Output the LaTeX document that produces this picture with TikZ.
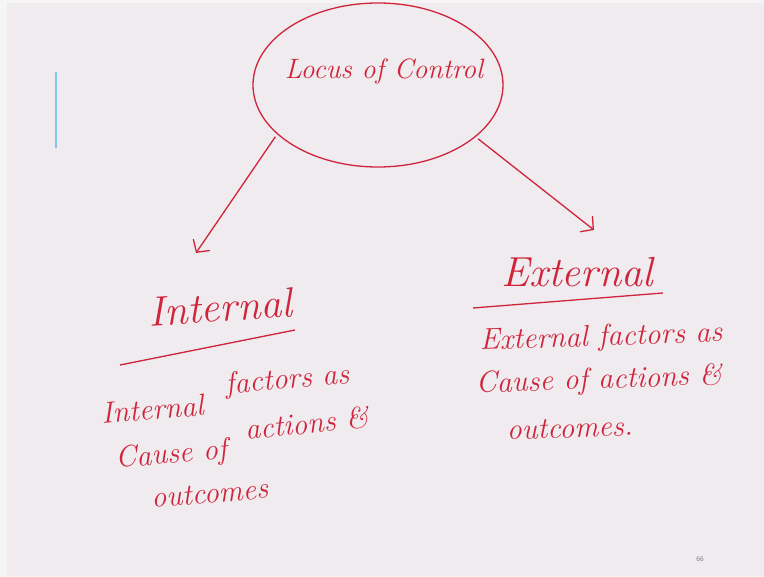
\documentclass[tikz,border=0pt]{standalone}
\usetikzlibrary{arrows.meta,shapes.geometric}
\definecolor{ink}{RGB}{208,36,58}
\definecolor{board}{RGB}{239,235,239}
\definecolor{pen}{RGB}{126,200,227}
\tikzset{hand/.style={text=ink,font=\itshape\fontsize{30}{36}\selectfont,inner sep=0pt},
  inkline/.style={draw=ink,line width=1.3pt}}
\begin{document}
\begin{tikzpicture}[x=1pt,y=-1pt]
\fill[white!96!black] (0,0) rectangle (764,577);
\fill[board] (7,3) rectangle (764,576);
\useasboundingbox (0,0) rectangle (764,577);
\draw[pen, line width=2pt] (56,72) -- (56,148);
\node[inkline, ellipse, minimum width=250pt, minimum height=164pt, inner sep=0pt] (loc) at (378,85) {};
\node[hand, font=\itshape\fontsize{28}{34}\selectfont] (title) at (384,72) {Locus of Control};
\coordinate (intip) at (196,253);
\coordinate (extip) at (594,230);
\draw[inkline, -{Straight Barb[length=9pt,width=20pt]}, shorten <=3pt] (loc.206) -- (intip);
\draw[inkline, -{Straight Barb[length=9pt,width=20pt]}, shorten <=3pt] (loc.332) -- (extip);
\node[hand, font=\itshape\fontsize{42}{48}\selectfont, rotate=4] (int) at (220,307) {Internal};
\draw[inkline] (120,365) -- (295,330);
\node[hand, font=\itshape\fontsize{42}{48}\selectfont] (ext) at (577,272) {External};
\draw[inkline] (473,308) -- (663,293);
\node[hand, anchor=base west, rotate=5] (in1a) at (102,424) {Internal};
\node[hand, anchor=base west, rotate=5] (in1b) at (226,394) {factors as};
\node[hand, anchor=base west, rotate=5] (in2a) at (116,468) {Cause of};
\node[hand, anchor=base west, rotate=6] (in2b) at (246,440) {actions \&};
\node[hand, anchor=base west, rotate=5] (in3) at (152,508) {outcomes};
\node[hand, anchor=base west, rotate=2] (ex1) at (480,350) {External factors as};
\node[hand, anchor=base west, rotate=2] (ex2) at (476,393) {Cause of actions \&};
\node[hand, anchor=base west, rotate=2] (ex3) at (507,440) {outcomes.};
\node[text=gray, font=\sffamily\fontsize{7}{8}\selectfont] (pg) at (700,559) {66};
\end{tikzpicture}
\end{document}
